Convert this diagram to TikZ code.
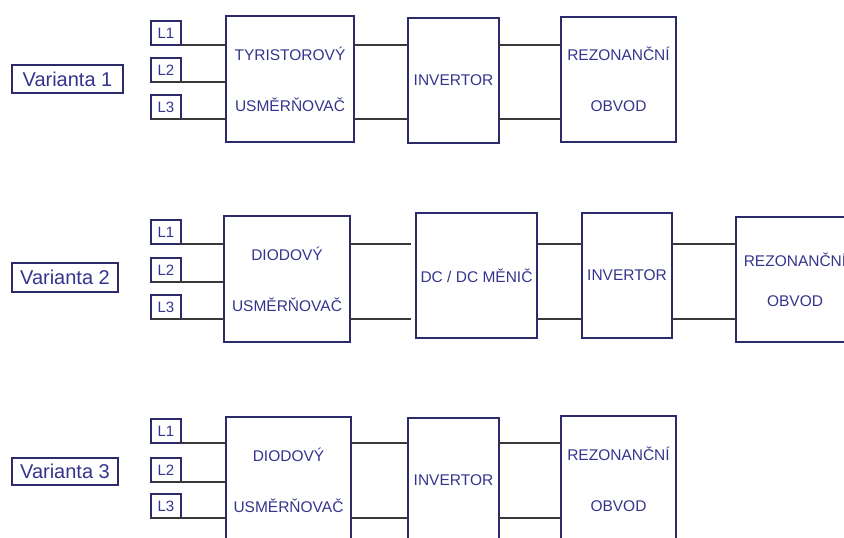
\documentclass[tikz,border=0pt]{standalone}
\usepackage{fontspec}
\setmainfont{Liberation Sans}
\definecolor{boxline}{HTML}{2B2B6B}
\definecolor{boxtext}{HTML}{34348C}
\definecolor{wire}{HTML}{383838}

\begin{document}
\begin{tikzpicture}[x=1pt,y=-1pt,
    blok/.style={draw=boxline,line width=1.3pt,anchor=north west,inner sep=0pt,outer sep=0pt,
      text=boxtext,align=center,font=\fontsize{15.5}{51}\selectfont},
    faze/.style={draw=boxline,line width=1.2pt,anchor=north west,inner sep=0pt,outer sep=0pt,
      minimum width=30pt,minimum height=24pt,text=boxtext,font=\fontsize{15}{18}\selectfont},
    varianta/.style={draw=boxline,line width=1.3pt,anchor=north west,inner sep=0pt,outer sep=0pt,
      text=boxtext,font=\fontsize{20}{24}\selectfont},
    vodic/.style={draw=wire,line width=1.6pt}]
                \clip (0,0) rectangle (844,538);
                % Varianta 1
                \node[varianta,minimum width=111pt,minimum height=28pt] (var1) at (12,65) {Varianta 1};
                \node[faze] (L1a) at (151,21) {L1};
                \node[faze] (L2a) at (151,58) {L2};
                \node[faze] (L3a) at (151,95) {L3};
                \node[blok,minimum width=128pt,minimum height=126pt] (usm1) at (226,16) {TYRISTOROVÝ\\USMĚRŇOVAČ};
                \node[blok,minimum width=91pt,minimum height=125pt] (inv1) at (408,18) {INVERTOR};
                \node[blok,minimum width=115pt,minimum height=125pt] (rez1) at (561,17) {REZONANČNÍ\\OBVOD};
                \draw[vodic] (L1a.south east) -- (L1a.south -| usm1.west);
                \draw[vodic] (L2a.south west) -- (L2a.south -| usm1.west);
                \draw[vodic] (L3a.south west) -- (L3a.south -| usm1.west);
                \draw[vodic] (L1a.south -| usm1.east) -- (L1a.south -| inv1.west);
                \draw[vodic] (L3a.south -| usm1.east) -- (L3a.south -| inv1.west);
                \draw[vodic] (L1a.south -| inv1.east) -- (L1a.south -| rez1.west);
                \draw[vodic] (L3a.south -| inv1.east) -- (L3a.south -| rez1.west);
                % Varianta 2
                \node[varianta,minimum width=106pt,minimum height=29pt] (var2) at (12,263) {Varianta 2};
                \node[faze] (L1b) at (151,220) {L1};
                \node[faze] (L2b) at (151,258) {L2};
                \node[faze] (L3b) at (151,295) {L3};
                \node[blok,minimum width=126pt,minimum height=126pt] (usm2) at (224,216) {DIODOVÝ\\USMĚRŇOVAČ};
                \node[blok,minimum width=121pt,minimum height=125pt] (dc2) at (416,213) {DC / DC MĚNIČ};
                \node[blok,minimum width=90pt,minimum height=125pt] (inv2) at (582,213) {INVERTOR};
                \node[blok,minimum width=118pt,minimum height=125pt,font=\fontsize{15.5}{40}\selectfont] (rez2) at (736,217) {REZONANČNÍ\\OBVOD};
                \draw[vodic] (L1b.south east) -- (L1b.south -| usm2.west);
                \draw[vodic] (L2b.south west) -- (L2b.south -| usm2.west);
                \draw[vodic] (L3b.south west) -- (L3b.south -| usm2.west);
                \draw[vodic,shorten >=5pt] (L1b.south -| usm2.east) -- (L1b.south -| dc2.west);
                \draw[vodic,shorten >=5pt] (L3b.south -| usm2.east) -- (L3b.south -| dc2.west);
                \draw[vodic] (L1b.south -| dc2.east) -- (L1b.south -| inv2.west);
                \draw[vodic] (L3b.south -| dc2.east) -- (L3b.south -| inv2.west);
                \draw[vodic] (L1b.south -| inv2.east) -- (L1b.south -| rez2.west);
                \draw[vodic] (L3b.south -| inv2.east) -- (L3b.south -| rez2.west);
                % Varianta 3
                \node[varianta,minimum width=106pt,minimum height=27pt] (var3) at (12,458) {Varianta 3};
                \node[faze] (L1c) at (151,419) {L1};
                \node[faze] (L2c) at (151,458) {L2};
                \node[faze] (L3c) at (151,494) {L3};
                \node[blok,minimum width=125pt,minimum height=126pt] (usm3) at (226,417) {DIODOVÝ\\USMĚRŇOVAČ};
                \node[blok,minimum width=91pt,minimum height=125pt] (inv3) at (408,418) {INVERTOR};
                \node[blok,minimum width=115pt,minimum height=126pt] (rez3) at (561,416) {REZONANČNÍ\\OBVOD};
                \draw[vodic] (L1c.south east) -- (L1c.south -| usm3.west);
                \draw[vodic] (L2c.south west) -- (L2c.south -| usm3.west);
                \draw[vodic] (L3c.south west) -- (L3c.south -| usm3.west);
                \draw[vodic] (L1c.south -| usm3.east) -- (L1c.south -| inv3.west);
                \draw[vodic] (L3c.south -| usm3.east) -- (L3c.south -| inv3.west);
                \draw[vodic] (L1c.south -| inv3.east) -- (L1c.south -| rez3.west);
                \draw[vodic] (L3c.south -| inv3.east) -- (L3c.south -| rez3.west);
\end{tikzpicture}
\end{document}
